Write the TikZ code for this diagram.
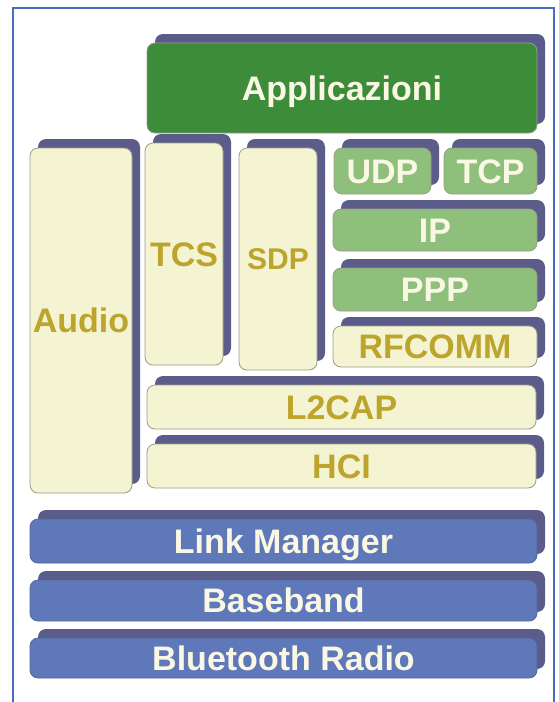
\documentclass[tikz,border=0pt]{standalone}
\usepackage{fontspec}
\setmainfont{Liberation Sans}
\usetikzlibrary{shadows}

\definecolor{frameblue}{HTML}{4A6BC0}
\definecolor{shadowc}{HTML}{5B5C8A}
\definecolor{appgreen}{HTML}{3D8C3A}
\definecolor{netgreen}{HTML}{8EC07B}
\definecolor{creamfill}{HTML}{F4F4D2}
\definecolor{goldtext}{HTML}{BDA42C}
\definecolor{layerblue}{HTML}{5F78B9}
\definecolor{paletext}{HTML}{FAF8E4}
\definecolor{edgegray}{HTML}{9C9C8A}

\tikzset{
  layer/.style={rounded corners=8pt, draw=edgegray, line width=0.8pt,
    inner sep=0pt, align=center,
    font=\bfseries\fontsize{34}{34}\selectfont,
    text height=24.5pt, text depth=0pt,
    general shadow={fill=shadowc, shadow xshift=8pt, shadow yshift=9pt}},
  appbox/.style={layer, fill=appgreen, text=paletext},
  netbox/.style={layer, fill=netgreen, text=paletext},
  creambox/.style={layer, fill=creamfill, text=goldtext},
  bluebox/.style={layer, fill=layerblue, draw=layerblue!85!black, text=paletext},
}

\begin{document}
\begin{tikzpicture}[x=1pt, y=-1pt]
  \useasboundingbox (0,0) rectangle (558,702);
  \fill[white] (0,0) rectangle (558,702);

  % outer frame, open at the bottom
  \draw[frameblue, line width=2pt] (13,712) -- (13,8) -- (554,8) -- (554,712);

  % application layer
  \node[appbox, minimum width=390pt, minimum height=90pt] (app) at (342,88) {Applicazioni};

  % middle protocols
  \node[creambox, minimum width=102pt, minimum height=345pt] (audio) at (81,320.5) {Audio};
  \node[creambox, minimum width=78pt, minimum height=222pt] (tcs) at (184,254) {TCS};
  \node[creambox, minimum width=78pt, minimum height=222pt,
        font=\bfseries\fontsize{30}{30}\selectfont, text height=21.5pt] (sdp) at (278,259) {SDP};

  \node[netbox, minimum width=97pt, minimum height=46pt] (udp) at (382.5,171) {UDP};
  \node[netbox, minimum width=93pt, minimum height=46pt] (tcp) at (490.5,171) {TCP};
  \node[netbox, minimum width=204pt, minimum height=42pt] (ip) at (435,230) {IP};
  \node[netbox, minimum width=204pt, minimum height=43pt] (ppp) at (435,289.5) {PPP};
  \node[creambox, minimum width=204pt, minimum height=41pt] (rfcomm) at (435,346.5) {RFCOMM};

  \node[creambox, minimum width=389pt, minimum height=44pt] (l2cap) at (341.5,407) {L2CAP};
  \node[creambox, minimum width=389pt, minimum height=44pt] (hci) at (341.5,466) {HCI};

  % lower layers
  \node[bluebox, minimum width=507pt, minimum height=44pt] (lm) at (283.5,541) {Link Manager};
  \node[bluebox, minimum width=507pt, minimum height=41pt] (bb) at (283.5,600.5) {Baseband};
  \node[bluebox, minimum width=507pt, minimum height=40pt] (radio) at (283.5,658) {Bluetooth Radio};
\end{tikzpicture}
\end{document}
